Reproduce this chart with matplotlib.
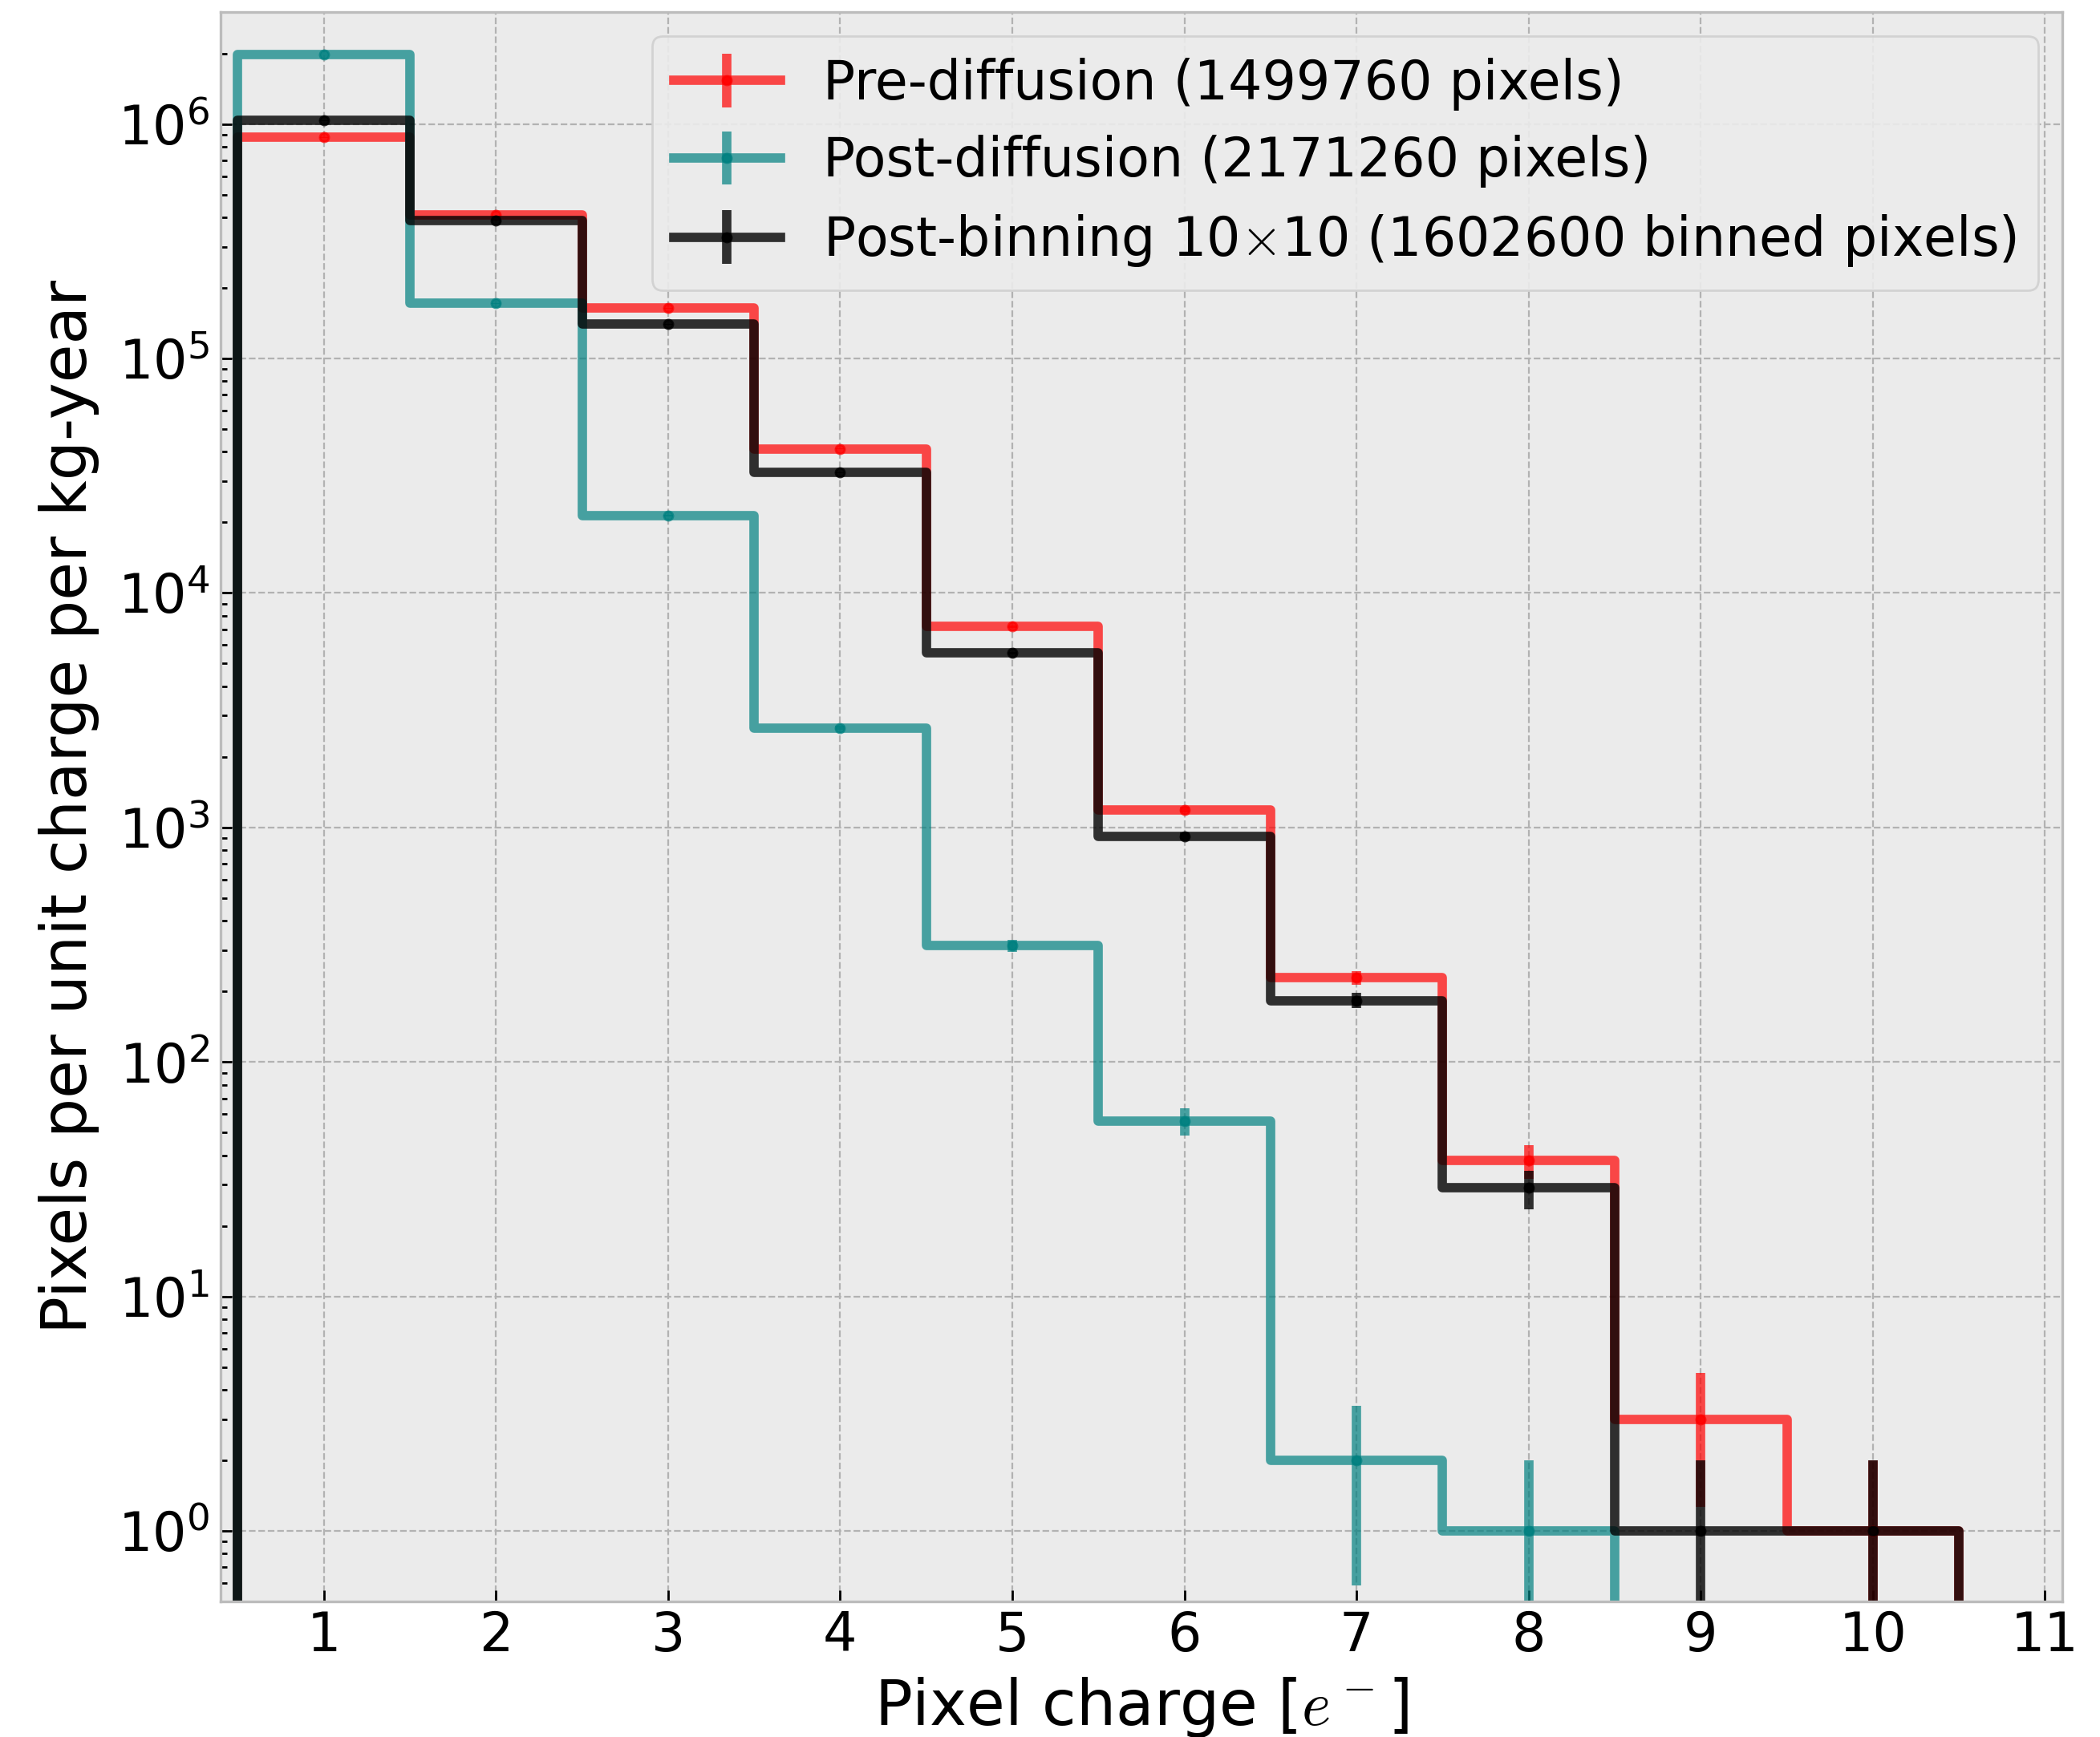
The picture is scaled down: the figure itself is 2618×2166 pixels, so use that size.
import numpy as np
import matplotlib
matplotlib.use("Agg")
import matplotlib.pyplot as plt
from matplotlib.ticker import NullFormatter

# bin centres (pixel charge in e-) and counts per bin
charge = np.arange(1, 11)
pre_diffusion = np.array([876000, 410000, 164000, 41200, 7200, 1190, 229, 38, 3, 1])
post_diffusion = np.array([1975000, 172000, 21400, 2660, 313, 56, 2, 1, 0, 0])
post_binning = np.array([1034000, 389000, 140000, 32600, 5550, 919, 183, 29, 1, 1])

labels = [
    "Pre-diffusion (1499760 pixels)",
    "Post-diffusion (2171260 pixels)",
    r"Post-binning 10$\times$10 (1602600 binned pixels)",
]
colors = ["red", "teal", "black"]
alphas = [0.7, 0.7, 0.8]

plt.rcParams["font.family"] = ["DejaVu Sans"]
plt.rcParams["mathtext.fontset"] = "cm"
fig = plt.figure(figsize=(13.09, 10.83), dpi=200)
ax = fig.add_axes([0.105, 0.078, 0.877, 0.915])
ax.set_facecolor("#ebebeb")

# pad with empty bins so the steps close at 0.5 and 10.5
x = np.concatenate([[0], charge, [11]])
for counts, lab, col, a in zip([pre_diffusion, post_diffusion, post_binning], labels, colors, alphas):
    y = np.concatenate([[0], counts, [0]]).astype(float)
    ax.errorbar(x, y, yerr=np.sqrt(y), fmt="o-", drawstyle="steps-mid",
                color=col, alpha=a, lw=4.2, elinewidth=4.2, ms=4, capsize=0, label=lab)

ax.set_yscale("log")
ax.set_xlim(0.4, 11.1)
ax.set_ylim(0.5, 3e6)
ax.set_xticks(range(1, 12))
ax.yaxis.set_minor_formatter(NullFormatter())

ax.grid(True, which="major", ls="--", color="#b2b2b2", lw=0.8)
ax.set_axisbelow(True)
for s in ax.spines.values():
    s.set_color("#bcbcbc")
    s.set_linewidth(1.2)
ax.tick_params(which="both", direction="in", labelsize=24)
ax.tick_params(which="major", length=5, width=1)
ax.tick_params(which="minor", length=3, width=1)
ax.tick_params(axis="y", which="major", pad=5)

ax.set_xlabel(r"Pixel charge [$e^-$]", fontsize=28, labelpad=6)
ax.set_ylabel("Pixels per unit charge per kg-year", fontsize=28, labelpad=8)

leg = ax.legend(loc="upper right", fontsize=24, facecolor="#ebebeb", edgecolor="#d0d0d0",
                framealpha=0.9, labelspacing=0.46, borderaxespad=0.45)

fig.savefig("out.png", dpi=200)
